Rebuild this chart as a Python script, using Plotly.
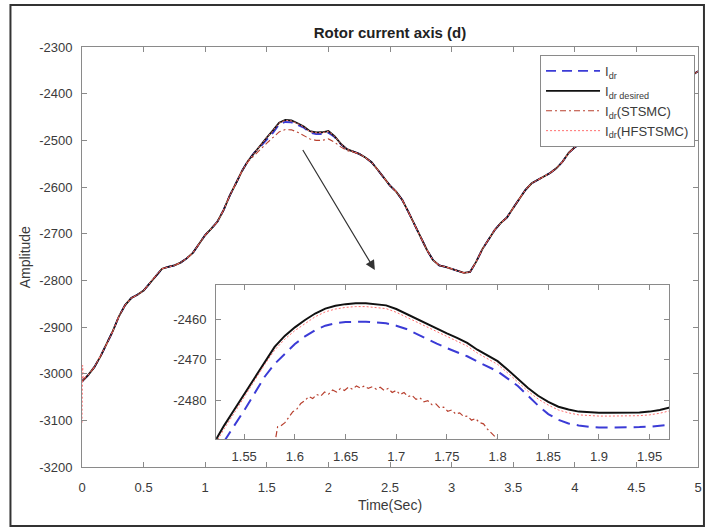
import plotly.graph_objects as go

# ---------------- main-plot data ----------------
time_main = [0.000, 0.005, 0.010,
             0.05, 0.10, 0.15, 0.20, 0.25, 0.30, 0.35, 0.40, 0.45, 0.50,
             0.55, 0.60, 0.65, 0.70, 0.75, 0.80, 0.85, 0.90, 0.95, 1.00,
             1.05, 1.10, 1.15, 1.20, 1.25, 1.30, 1.35, 1.40, 1.45, 1.50,
             1.55, 1.60, 1.65, 1.70, 1.75, 1.80, 1.85, 1.90, 1.95, 2.00,
             2.05, 2.10, 2.15, 2.20, 2.25, 2.30, 2.35, 2.40, 2.45, 2.50,
             2.55, 2.60, 2.65, 2.70, 2.75, 2.80, 2.85, 2.90, 2.95, 3.00,
             3.05, 3.10, 3.15, 3.20, 3.25, 3.30, 3.35, 3.40, 3.45, 3.50,
             3.55, 3.60, 3.65, 3.70, 3.75, 3.80, 3.85, 3.90, 3.95, 4.00,
             4.1, 4.2, 4.3, 4.4, 4.5, 4.6, 4.7, 4.8, 4.9, 5.0]

idr_desired_main = [-3017, -3016, -3014,
                    -3003, -2986, -2963, -2937, -2909, -2877, -2853, -2838, -2831, -2822,
                    -2806, -2789, -2775, -2771, -2768, -2762, -2753, -2741, -2722, -2703,
                    -2689, -2674, -2649, -2618, -2592, -2565, -2543, -2526, -2511, -2494,
                    -2478.5, -2462.2, -2456.3, -2457.5, -2463.5, -2470.2, -2480.4, -2483.0, -2482.7, -2480.0,
                    -2491, -2507, -2519, -2524, -2529, -2537, -2547, -2563, -2580, -2597,
                    -2610, -2628, -2654, -2682, -2708, -2735, -2757, -2768, -2771, -2775,
                    -2780, -2784, -2782, -2760, -2733, -2712, -2692, -2677, -2665, -2645,
                    -2624, -2606, -2592, -2585, -2578, -2570, -2560, -2546, -2527, -2515,
                    -2498, -2482, -2466, -2450, -2434, -2418, -2402, -2386, -2370, -2352]

idr_main = [-3017, -3016, -3014,
            -3003, -2986, -2963, -2937, -2909, -2877, -2853, -2838, -2831, -2822,
            -2806, -2789, -2775, -2771, -2768, -2762, -2753, -2741, -2722, -2703,
            -2689, -2674, -2649, -2618, -2592, -2565, -2543, -2526, -2513, -2498,
            -2484, -2466.1, -2460.7, -2461.5, -2467.2, -2472.7, -2483.6, -2486.6, -2486.4, -2484.0,
            -2493, -2508, -2519, -2524, -2529, -2537, -2547, -2563, -2580, -2597,
            -2610, -2628, -2654, -2682, -2708, -2735, -2757, -2768, -2771, -2775,
            -2780, -2784, -2782, -2760, -2733, -2712, -2692, -2677, -2665, -2645,
            -2624, -2606, -2592, -2585, -2578, -2570, -2560, -2546, -2527, -2515,
            -2498, -2482, -2466, -2450, -2434, -2418, -2402, -2386, -2370, -2352]

idr_stsmc_main = [-3017, -3016, -3014,
                  -3003, -2986, -2963, -2937, -2909, -2877, -2853, -2838, -2831, -2822,
                  -2806, -2789, -2775, -2771, -2768, -2762, -2753, -2741, -2722, -2703,
                  -2689, -2674, -2649, -2618, -2592, -2565, -2545, -2531, -2519, -2506,
                  -2495, -2482, -2477, -2477.5, -2482.5, -2489.5, -2497, -2500, -2500, -2497,
                  -2504, -2514, -2522, -2525, -2529, -2537, -2547, -2563, -2580, -2597,
                  -2610, -2628, -2654, -2682, -2708, -2735, -2757, -2768, -2771, -2775,
                  -2780, -2784, -2782, -2760, -2733, -2712, -2692, -2677, -2665, -2645,
                  -2624, -2606, -2592, -2585, -2578, -2570, -2560, -2546, -2527, -2515,
                  -2498, -2482, -2466, -2450, -2434, -2418, -2402, -2386, -2370, -2352]

idr_hfstsmc_main = [-3105, -2982, -3010,
                    -3003, -2986, -2963, -2937, -2909, -2877, -2853, -2838, -2831, -2822,
                    -2806, -2789, -2775, -2771, -2768, -2762, -2753, -2741, -2722, -2703,
                    -2689, -2674, -2649, -2618, -2592, -2565, -2543, -2526, -2511, -2494,
                    -2479.3, -2463.0, -2457.1, -2458.3, -2464.3, -2471.0, -2481.2, -2483.8, -2483.5, -2480.8,
                    -2491, -2507, -2519, -2524, -2529, -2537, -2547, -2563, -2580, -2597,
                    -2610, -2628, -2654, -2682, -2708, -2735, -2757, -2768, -2771, -2775,
                    -2780, -2784, -2782, -2760, -2733, -2712, -2692, -2677, -2665, -2645,
                    -2624, -2606, -2592, -2585, -2578, -2570, -2560, -2546, -2527, -2515,
                    -2498, -2482, -2466, -2450, -2434, -2418, -2402, -2386, -2370, -2352]

# ---------------- inset (zoom) data ----------------
time_zoom = [1.52, 1.53, 1.54, 1.55, 1.56, 1.57, 1.58, 1.59, 1.60, 1.61,
             1.62, 1.63, 1.64, 1.65, 1.66, 1.67, 1.68, 1.69, 1.70, 1.71,
             1.72, 1.73, 1.74, 1.75, 1.76, 1.77, 1.78, 1.79, 1.80, 1.81,
             1.82, 1.83, 1.84, 1.85, 1.86, 1.87, 1.88, 1.89, 1.90, 1.91,
             1.92, 1.93, 1.94, 1.95, 1.96, 1.97]

idr_desired_zoom = [-2490.5, -2486.2, -2482.3, -2478.4, -2474.3, -2470.4, -2466.8, -2464.1, -2462.0, -2460.2,
                    -2458.6, -2457.4, -2456.7, -2456.3, -2456.1, -2456.1, -2456.3, -2456.6, -2457.5, -2458.7,
                    -2460.0, -2461.2, -2462.3, -2463.5, -2464.6, -2465.8, -2467.5, -2468.9, -2470.3, -2472.4,
                    -2474.6, -2476.9, -2478.8, -2480.3, -2481.5, -2482.2, -2482.7, -2482.9, -2483.0, -2483.0,
                    -2483.0, -2483.0, -2482.9, -2482.7, -2482.3, -2481.7]

idr_zoom = [-2494.0, -2490.0, -2486.2, -2482.4, -2478.3, -2474.2, -2471.0, -2468.5, -2466.1, -2464.2,
            -2462.7, -2461.6, -2461.0, -2460.7, -2460.6, -2460.6, -2460.8, -2461.0, -2461.6, -2462.4,
            -2463.6, -2464.9, -2466.0, -2467.1, -2468.1, -2469.1, -2470.4, -2471.6, -2472.8, -2474.6,
            -2476.4, -2478.8, -2481.2, -2483.3, -2484.7, -2485.6, -2486.1, -2486.4, -2486.6, -2486.6,
            -2486.6, -2486.6, -2486.5, -2486.4, -2486.2, -2485.9]

idr_hfstsmc_zoom = [-2491.3, -2487.0, -2483.1, -2479.1, -2475.1, -2471.2, -2467.6, -2464.9, -2462.8, -2461.0,
                    -2459.4, -2458.2, -2457.5, -2457.1, -2456.9, -2456.9, -2457.1, -2457.4, -2458.3, -2459.5,
                    -2460.8, -2462.0, -2463.1, -2464.3, -2465.4, -2466.6, -2468.3, -2469.7, -2471.1, -2473.2,
                    -2475.4, -2477.7, -2479.6, -2481.1, -2482.3, -2483.0, -2483.5, -2483.7, -2483.8, -2483.8,
                    -2483.8, -2483.8, -2483.7, -2483.5, -2483.1, -2482.5]

time_zoom_st = [1.5750, 1.5810, 1.5830, 1.5862, 1.5902, 1.5941, 1.5980, 1.6019, 1.6058, 1.6098,
                1.6137, 1.6176, 1.6215, 1.6254, 1.6293, 1.6333, 1.6372, 1.6411, 1.6450, 1.6489,
                1.6529, 1.6568, 1.6607, 1.6646, 1.6685, 1.6724, 1.6764, 1.6803, 1.6842, 1.6881,
                1.6920, 1.6960, 1.6999, 1.7038, 1.7077, 1.7116, 1.7156, 1.7195, 1.7234, 1.7273,
                1.7312, 1.7351, 1.7391, 1.7430, 1.7469, 1.7508, 1.7547, 1.7587, 1.7626, 1.7665,
                1.7704, 1.7743, 1.7782, 1.7822, 1.7861, 1.7900, 1.7939, 1.7978, 1.8018, 1.8060]

idr_stsmc_zoom = [-2492.0, -2489.3, -2486.4, -2486.2, -2485.4, -2483.9, -2482.7, -2482.1, -2480.7, -2480.0,
                  -2479.0, -2479.5, -2478.5, -2478.9, -2477.9, -2478.4, -2477.4, -2477.9, -2477.0, -2477.5,
                  -2476.7, -2477.2, -2476.4, -2476.9, -2476.4, -2477.0, -2476.6, -2477.2, -2476.7, -2477.5,
                  -2477.0, -2478.0, -2477.5, -2478.5, -2478.0, -2479.0, -2478.7, -2479.7, -2479.3, -2480.3,
                  -2480.0, -2481.0, -2480.8, -2481.8, -2481.6, -2482.6, -2482.3, -2483.3, -2483.0, -2483.9,
                  -2483.8, -2484.8, -2484.4, -2485.4, -2485.7, -2487.0, -2488.0, -2489.0, -2489.8, -2491.0]

# tick labels
main_xticks = [0, 0.5, 1, 1.5, 2, 2.5, 3, 3.5, 4, 4.5, 5]
main_xtext = ["0", "0.5", "1", "1.5", "2", "2.5", "3", "3.5", "4", "4.5", "5"]
main_yticks = [-3200, -3100, -3000, -2900, -2800, -2700, -2600, -2500, -2400, -2300]
main_ytext = ["-3200", "-3100", "-3000", "-2900", "-2800", "-2700", "-2600", "-2500", "-2400", "-2300"]
zoom_xticks = [1.55, 1.6, 1.65, 1.7, 1.75, 1.8, 1.85, 1.9, 1.95]
zoom_xtext = ["1.55", "1.6", "1.65", "1.7", "1.75", "1.8", "1.85", "1.9", "1.95"]
zoom_yticks = [-2480, -2470, -2460]
zoom_ytext = ["-2480", "-2470", "-2460"]

names = ["I<sub>dr</sub>", "I<sub>dr desired</sub>", "I<sub>dr</sub>(STSMC)", "I<sub>dr</sub>(HFSTSMC)"]

FONT = "Liberation Sans, Arial, sans-serif"
TXT = "#3a3a3a"
AX = "#8a8a8a"
BLUE = "#3b3bd6"
BLACK = "#111111"
DRED = "#b8402f"
LRED = "#ff6f6f"

fig = go.Figure()

# main traces
fig.add_trace(go.Scatter(x=time_main, y=idr_main, mode="lines", name=names[0],
                         line=dict(color=BLUE, width=1.8, dash="10px,6px")))
fig.add_trace(go.Scatter(x=time_main, y=idr_desired_main, mode="lines", name=names[1],
                         line=dict(color=BLACK, width=1.8)))
fig.add_trace(go.Scatter(x=time_main, y=idr_stsmc_main, mode="lines", name=names[2],
                         line=dict(color=DRED, width=1.1, dash="6px,3px,2px,3px")))
fig.add_trace(go.Scatter(x=time_main, y=idr_hfstsmc_main, mode="lines", name=names[3],
                         line=dict(color=LRED, width=1.0, dash="2px,2px")))

# inset traces
fig.add_trace(go.Scatter(x=time_zoom, y=idr_zoom, mode="lines", showlegend=False,
                         xaxis="x2", yaxis="y2",
                         line=dict(color=BLUE, width=2, dash="12px,7px")))
fig.add_trace(go.Scatter(x=time_zoom, y=idr_desired_zoom, mode="lines", showlegend=False,
                         xaxis="x2", yaxis="y2", line=dict(color=BLACK, width=2)))
fig.add_trace(go.Scatter(x=time_zoom_st, y=idr_stsmc_zoom, mode="lines", showlegend=False,
                         xaxis="x2", yaxis="y2",
                         line=dict(color=DRED, width=1.2, dash="6px,3px,2px,3px")))
fig.add_trace(go.Scatter(x=time_zoom, y=idr_hfstsmc_zoom, mode="lines", showlegend=False,
                         xaxis="x2", yaxis="y2",
                         line=dict(color=LRED, width=1.0, dash="2px,2px")))

L, R, T, B = 82, 10, 47, 62
W, H = 712, 529
PW, PH = W - L - R, H - T - B


def px_x(px):
    return (px - L) / PW


def px_y(py):
    return (H - B - py) / PH


axis_common = dict(showline=True, linecolor=AX, linewidth=1, mirror="ticks",
                   ticks="inside", ticklen=5, tickcolor=AX, showgrid=False,
                   zeroline=False, tickfont=dict(family=FONT, size=13, color=TXT))

fig.update_layout(
    width=W, height=H,
    margin=dict(l=L, r=R, t=T, b=B),
    paper_bgcolor="white", plot_bgcolor="white",
    font=dict(family=FONT, color=TXT),
    title=dict(text="<b>Rotor current axis (d)</b>", x=0.5, xref="paper", xanchor="center",
               y=1 - 33 / H, yref="container", yanchor="middle",
               font=dict(family=FONT, size=15, color="#222222")),
    xaxis=dict(range=[0, 5], tickvals=main_xticks, ticktext=main_xtext,
               ticklabelstandoff=8, **axis_common),
    yaxis=dict(range=[-3200, -2300], tickvals=main_yticks, ticktext=main_ytext,
               ticklabelstandoff=6, **axis_common),
    xaxis2=dict(domain=[px_x(217), px_x(673.3)], anchor="y2", range=[1.5223, 1.9696],
                tickvals=zoom_xticks, ticktext=zoom_xtext, ticklabelstandoff=5, **axis_common),
    yaxis2=dict(domain=[px_y(439.3), px_y(285)], anchor="x2", range=[-2489.5, -2451.6],
                tickvals=zoom_yticks, ticktext=zoom_ytext, ticklabelstandoff=6, **axis_common),
    legend=dict(x=px_x(543), y=px_y(55), xanchor="left", yanchor="top",
                bgcolor="white", bordercolor="#8a8a8a", borderwidth=1,
                font=dict(family=FONT, size=13, color=TXT), itemwidth=54,
                tracegroupgap=0),
    showlegend=True,
)

# axis labels
fig.add_annotation(text="Time(Sec)", xref="paper", yref="paper", x=0.5, y=px_y(505),
                   xanchor="center", yanchor="middle", showarrow=False,
                   font=dict(family=FONT, size=14, color=TXT))
fig.add_annotation(text="Amplitude", xref="paper", yref="paper", x=px_x(25), y=px_y(257),
                   xanchor="center", yanchor="middle", textangle=-90, showarrow=False,
                   font=dict(family=FONT, size=14, color=TXT))

# arrow pointing to the inset
fig.add_annotation(x=2.377, y=-2778, ax=1.785, ay=-2517.6, xref="x", yref="y",
                   axref="x", ayref="y", text="", showarrow=True, arrowhead=2,
                   arrowsize=1.6, arrowwidth=1.2, arrowcolor="#333333")

# outer frame around the figure
fig.add_shape(type="rect", xref="paper", yref="paper",
              x0=px_x(10), x1=px_x(708), y0=px_y(526), y1=px_y(5),
              line=dict(color="#333333", width=2), fillcolor="rgba(0,0,0,0)")

fig.write_html("out.html")
